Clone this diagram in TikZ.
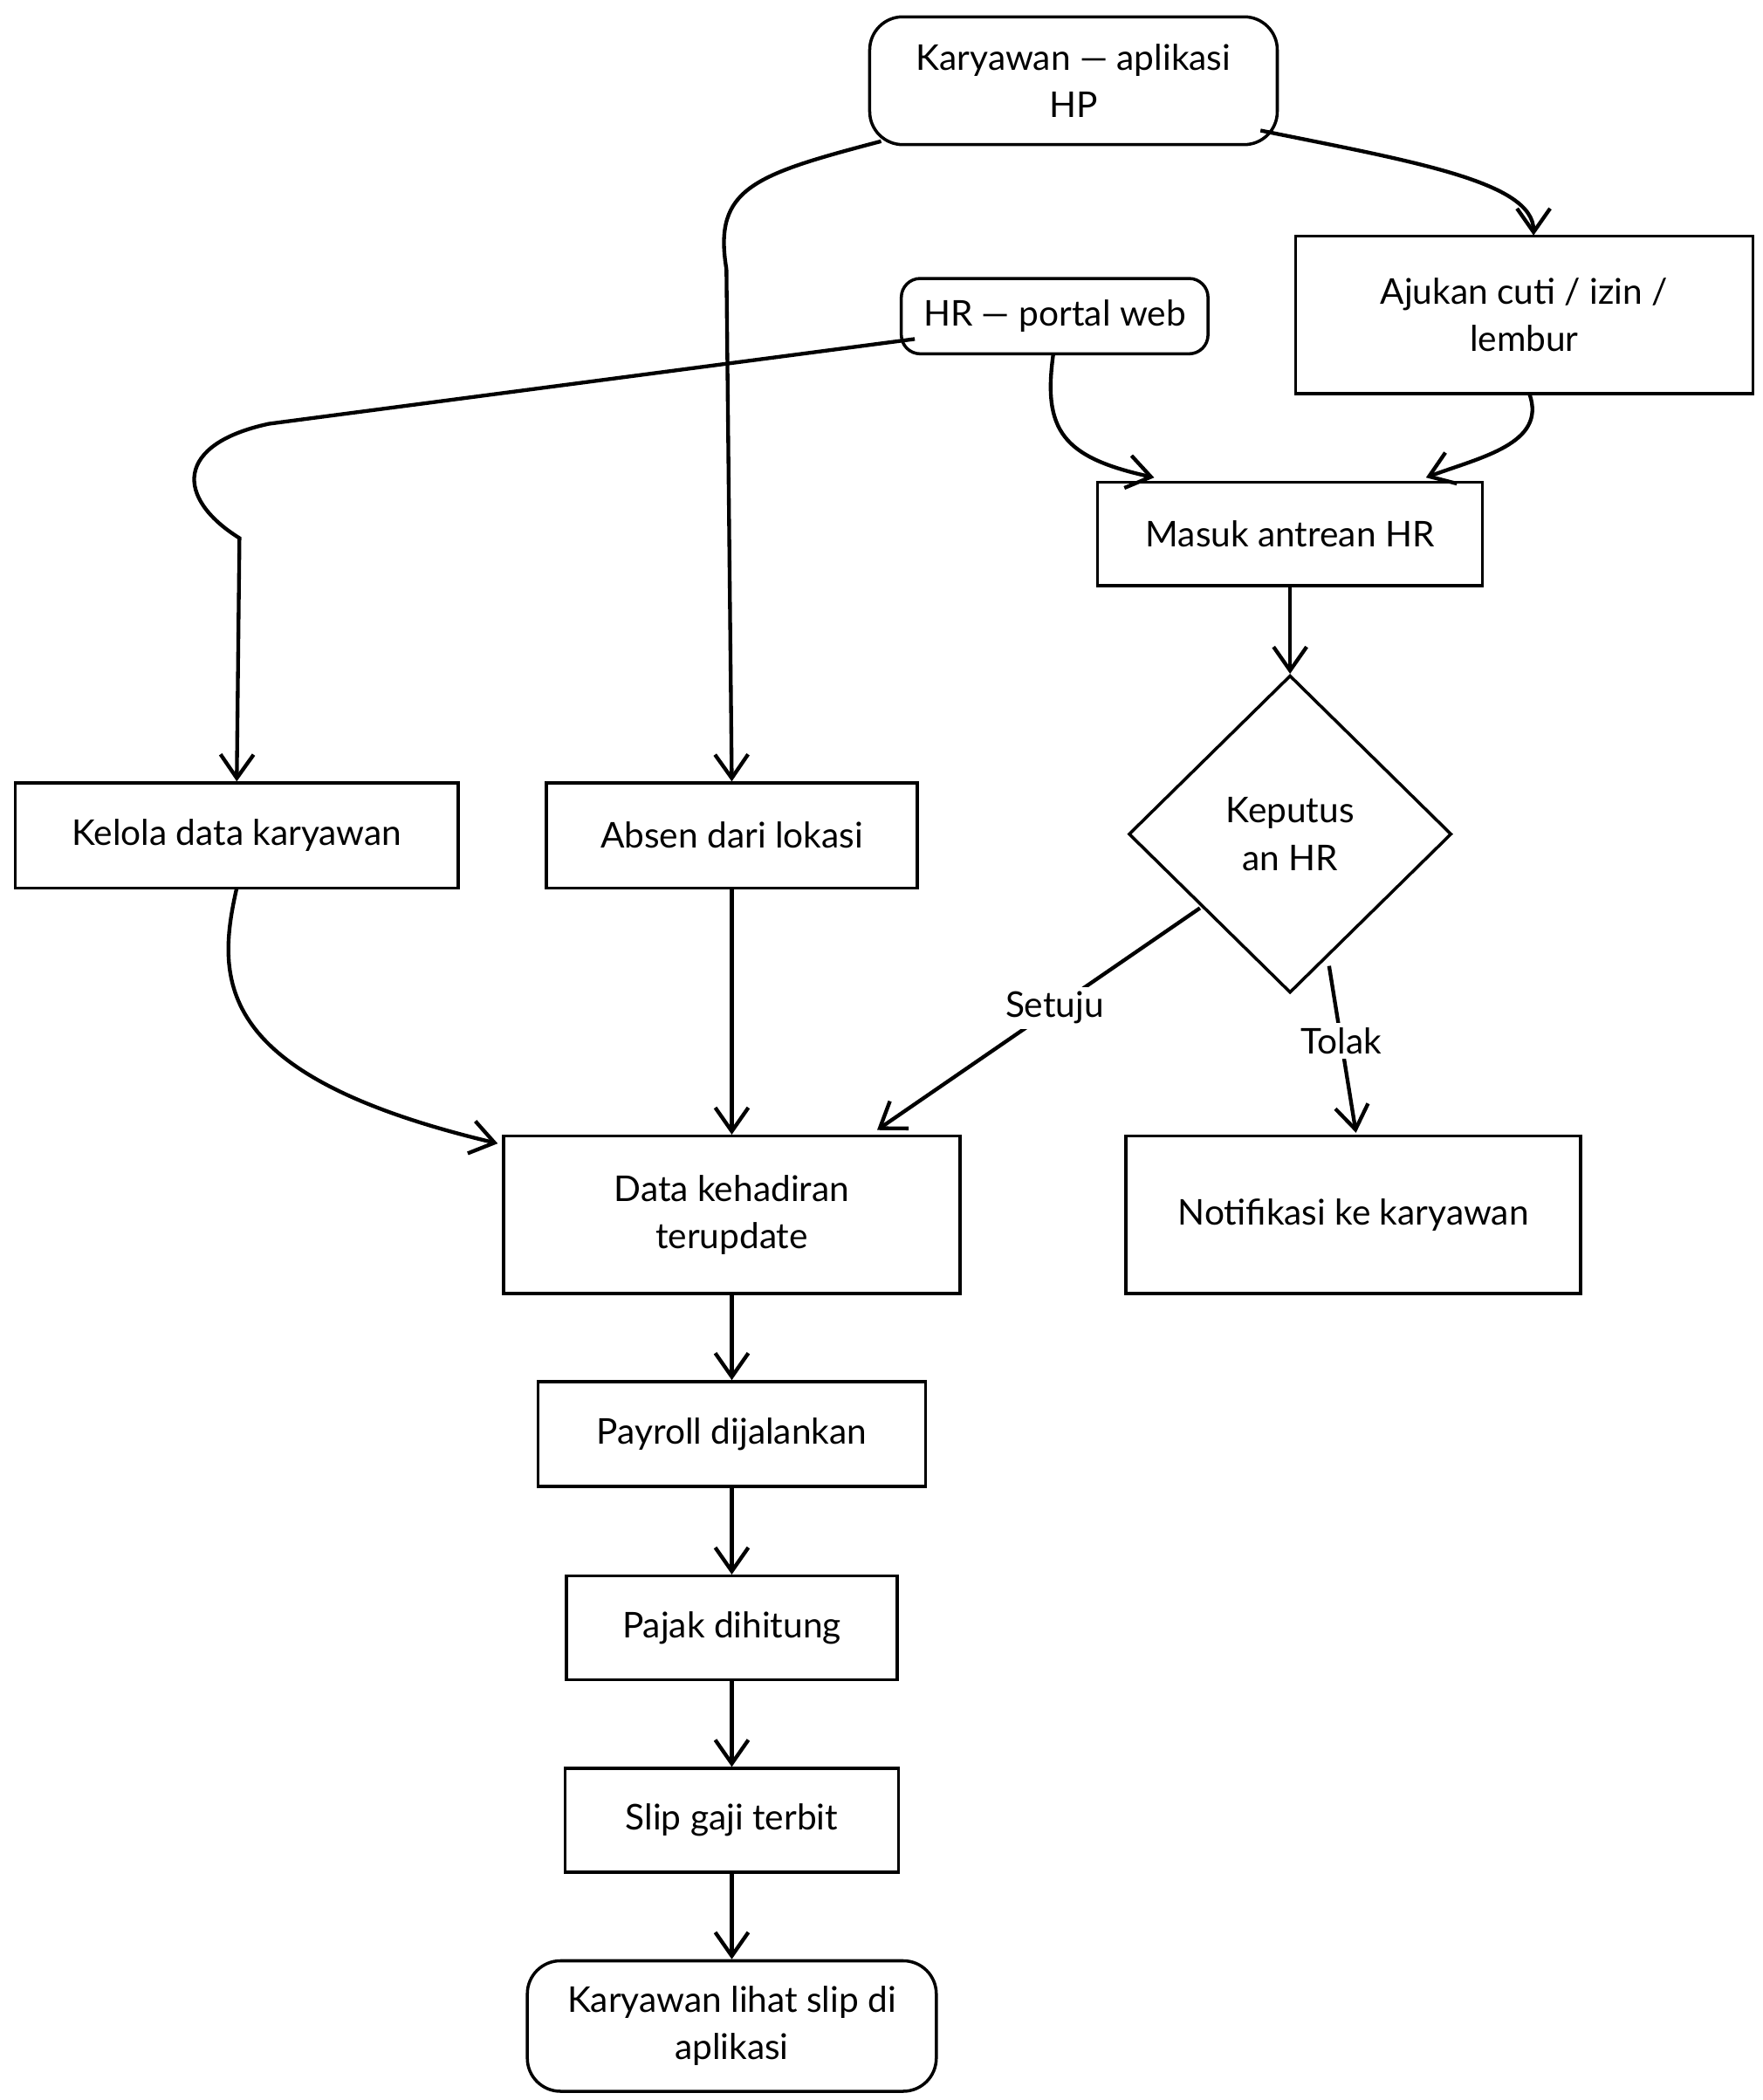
\documentclass[tikz,border=0pt]{standalone}
\usepackage{fontspec}
\setmainfont{Lato}
\usetikzlibrary{shapes.geometric,arrows.meta}
\begin{document}
\begin{tikzpicture}[x=0.02cm,y=-0.02cm,
  box/.style={draw,line width=1.3pt,align=center,font=\fontsize{15}{20}\selectfont,inner sep=0},
  rbox/.style={box,rounded corners=14pt},
  arr/.style={draw,line width=1.6pt,-{Straight Barb[length=10pt,width=14pt]}},
  lab/.style={fill=white,font=\fontsize{15}{20}\selectfont,inner sep=2pt}]
\useasboundingbox (0,0) rectangle (1310,1561);
\node[rbox] (kar) at (798,60) [minimum width=303*0.02cm, minimum height=95*0.02cm] {Karyawan — aplikasi\\HP};
\node[box,minimum width=340*0.02cm,minimum height=117*0.02cm] (aju) at (1133,234) {Ajukan cuti / izin /\\lembur};
\node[rbox,rounded corners=8pt,minimum width=228*0.02cm,minimum height=56*0.02cm] (hr) at (784,235) {HR — portal web};
\node[box,minimum width=286*0.02cm,minimum height=77*0.02cm] (mas) at (959,397) {Masuk antrean HR};
\node[box,diamond,minimum width=240*0.02cm,minimum height=236*0.02cm] (dec) at (959,620) {Keputus\\an HR};
\node[box,minimum width=329*0.02cm,minimum height=78*0.02cm] (kel) at (176,621) {Kelola data karyawan};
\node[box,minimum width=276*0.02cm,minimum height=78*0.02cm] (abs) at (544,621) {Absen dari lokasi};
\node[box,minimum width=339*0.02cm,minimum height=117*0.02cm] (dat) at (544,903) {Data kehadiran\\terupdate};
\node[box,minimum width=338*0.02cm,minimum height=117*0.02cm] (not) at (1006,903) {Notifikasi ke karyawan};
\node[box,minimum width=288*0.02cm,minimum height=78*0.02cm] (pay) at (544,1066) {Payroll dijalankan};
\node[box,minimum width=246*0.02cm,minimum height=77*0.02cm] (paj) at (544,1210) {Pajak dihitung};
\node[box,minimum width=248*0.02cm,minimum height=77*0.02cm] (sli) at (544,1353) {Slip gaji terbit};
\node[rbox,minimum width=304*0.02cm,minimum height=97*0.02cm] (lih) at (544,1506) {Karyawan lihat slip di\\aplikasi};

\coordinate (k1) at (655,105);
\coordinate (k2) at (937,97);
\coordinate (k3) at (1140,175);
\coordinate (h1) at (680,252);
\coordinate (h2) at (783,263);
\coordinate (a1) at (1137,293);
\coordinate (d1) at (892,675);
\coordinate (d2) at (988,718);
\coordinate (e1) at (176,660);

\draw[arr] (k1) .. controls (560,130) and (530,140) .. (540,200) -- (abs.north);
\draw[arr] (k2) .. controls (1050,120) and (1140,135) .. (k3);
\draw[arr] (h1) -- (200,315) .. controls (130,330) and (130,370) .. (178,400) -- (kel.north);
\draw[arr] (h2) .. controls (775,320) and (790,340) .. (858,355);
\draw[arr] (a1) .. controls (1150,330) and (1100,340) .. (1060,355);
\draw[arr] (mas) -- (dec.north);
\draw[arr] (d1) -- node[lab,pos=0.45]{Setuju} (652,840);
\draw[arr] (d2) -- node[lab,pos=0.45]{Tolak} (1008,842);
\draw[arr] (e1) .. controls (160,730) and (160,800) .. (370,850);
\draw[arr] (abs) -- (dat);
\draw[arr] (dat) -- (pay);
\draw[arr] (pay) -- (paj);
\draw[arr] (paj) -- (sli);
\draw[arr] (sli) -- (lih);
\end{tikzpicture}
\end{document}
